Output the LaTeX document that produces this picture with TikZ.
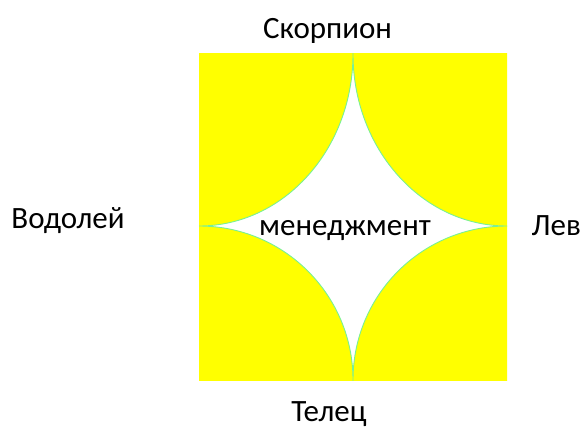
\documentclass[tikz,border=0pt]{standalone}
\usepackage{fontspec}
\setmainfont{Carlito}
\definecolor{petal}{RGB}{255,255,0}
\definecolor{rim}{RGB}{120,240,150}
\begin{document}
\begin{tikzpicture}[x=1pt,y=-1pt,
  lbl/.style={anchor=base,inner sep=0pt,font=\fontsize{31}{37}\selectfont},
  petalfill/.style={fill=petal,draw=rim,line width=0.9pt}]
\useasboundingbox (0,0) rectangle (583,428);
% top-left
\begin{scope}
  \clip (199,54) rectangle (353,226);
  \path[petalfill] (199,54) ellipse [x radius=154, y radius=172];
\end{scope}
% top-right
\begin{scope}
  \clip (353,54) rectangle (507,226);
  \path[petalfill] (507,54) ellipse [x radius=154, y radius=172];
\end{scope}
% bottom-left
\begin{scope}
  \clip (199,226) rectangle (353,380);
  \path[petalfill] (199,380) ellipse [x radius=154, y radius=154];
\end{scope}
% bottom-right
\begin{scope}
  \clip (353,226) rectangle (507,380);
  \path[petalfill] (507,380) ellipse [x radius=154, y radius=154];
\end{scope}
\node[lbl] (top) at (327.5,38) {Скорпион};
\node[lbl] (left) at (68,228) {Водолей};
\node[lbl] (center) at (345,235) {менеджмент};
\node[lbl,anchor=base west] (right) at (531.5,235) {Лев};
\node[lbl] (bottom) at (329,421) {Телец};
\end{tikzpicture}
\end{document}
